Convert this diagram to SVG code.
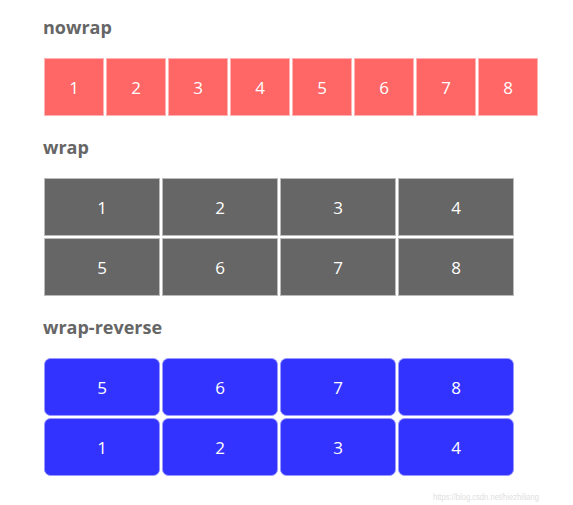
<svg xmlns="http://www.w3.org/2000/svg" width="573" height="505" viewBox="0 0 573 505">
<style>
.t{font-family:"Open Sans","Noto Sans",sans-serif;font-weight:bold;font-size:18px;fill:#666}
.n{font-family:"Open Sans","Noto Sans",sans-serif;font-size:17px;fill:#fff;text-anchor:middle}
.r{fill:#ff6666;stroke:#ffb3b3;stroke-width:1}
.g{fill:#666;stroke:#bbb;stroke-width:1}
.b{fill:#3333ff;stroke:#9999ff;stroke-width:1}
</style>
<rect width="573" height="505" fill="#fff"/>
<text class="t" x="43" y="34">nowrap</text>
<text class="t" x="43" y="154">wrap</text>
<text class="t" x="43" y="334">wrap-reverse</text>
<g id="nowrap">
<g id="nw1"><rect class="r" x="44.5" y="58.5" width="59" height="57"/><text class="n" x="74" y="94">1</text></g>
<g id="nw2"><rect class="r" x="106.5" y="58.5" width="59" height="57"/><text class="n" x="136" y="94">2</text></g>
<g id="nw3"><rect class="r" x="168.5" y="58.5" width="59" height="57"/><text class="n" x="198" y="94">3</text></g>
<g id="nw4"><rect class="r" x="230.5" y="58.5" width="59" height="57"/><text class="n" x="260" y="94">4</text></g>
<g id="nw5"><rect class="r" x="292.5" y="58.5" width="59" height="57"/><text class="n" x="322" y="94">5</text></g>
<g id="nw6"><rect class="r" x="354.5" y="58.5" width="59" height="57"/><text class="n" x="384" y="94">6</text></g>
<g id="nw7"><rect class="r" x="416.5" y="58.5" width="59" height="57"/><text class="n" x="446" y="94">7</text></g>
<g id="nw8"><rect class="r" x="478.5" y="58.5" width="59" height="57"/><text class="n" x="508" y="94">8</text></g>
</g>
<g id="wrap">
<g id="w1"><rect class="g" x="44.5" y="178.5" width="115" height="57"/><text class="n" x="102" y="214">1</text></g>
<g id="w2"><rect class="g" x="162.5" y="178.5" width="115" height="57"/><text class="n" x="220" y="214">2</text></g>
<g id="w3"><rect class="g" x="280.5" y="178.5" width="115" height="57"/><text class="n" x="338" y="214">3</text></g>
<g id="w4"><rect class="g" x="398.5" y="178.5" width="115" height="57"/><text class="n" x="456" y="214">4</text></g>
<g id="w5"><rect class="g" x="44.5" y="238.5" width="115" height="57"/><text class="n" x="102" y="274">5</text></g>
<g id="w6"><rect class="g" x="162.5" y="238.5" width="115" height="57"/><text class="n" x="220" y="274">6</text></g>
<g id="w7"><rect class="g" x="280.5" y="238.5" width="115" height="57"/><text class="n" x="338" y="274">7</text></g>
<g id="w8"><rect class="g" x="398.5" y="238.5" width="115" height="57"/><text class="n" x="456" y="274">8</text></g>
</g>
<g id="wrap-reverse">
<g id="wr5"><rect class="b" x="44.5" y="358.5" width="115" height="57" rx="6"/><text class="n" x="102" y="394">5</text></g>
<g id="wr6"><rect class="b" x="162.5" y="358.5" width="115" height="57" rx="6"/><text class="n" x="220" y="394">6</text></g>
<g id="wr7"><rect class="b" x="280.5" y="358.5" width="115" height="57" rx="6"/><text class="n" x="338" y="394">7</text></g>
<g id="wr8"><rect class="b" x="398.5" y="358.5" width="115" height="57" rx="6"/><text class="n" x="456" y="394">8</text></g>
<g id="wr1"><rect class="b" x="44.5" y="418.5" width="115" height="57" rx="6"/><text class="n" x="102" y="454">1</text></g>
<g id="wr2"><rect class="b" x="162.5" y="418.5" width="115" height="57" rx="6"/><text class="n" x="220" y="454">2</text></g>
<g id="wr3"><rect class="b" x="280.5" y="418.5" width="115" height="57" rx="6"/><text class="n" x="338" y="454">3</text></g>
<g id="wr4"><rect class="b" x="398.5" y="418.5" width="115" height="57" rx="6"/><text class="n" x="456" y="454">4</text></g>
</g>
<g id="connectors"/>
<text x="433" y="500" font-family="Liberation Sans, Arial, sans-serif" font-size="8.5" textLength="106" lengthAdjust="spacingAndGlyphs" fill="#e0e0e0">https://blog.csdn.net/hiezhiliang</text>
</svg>
